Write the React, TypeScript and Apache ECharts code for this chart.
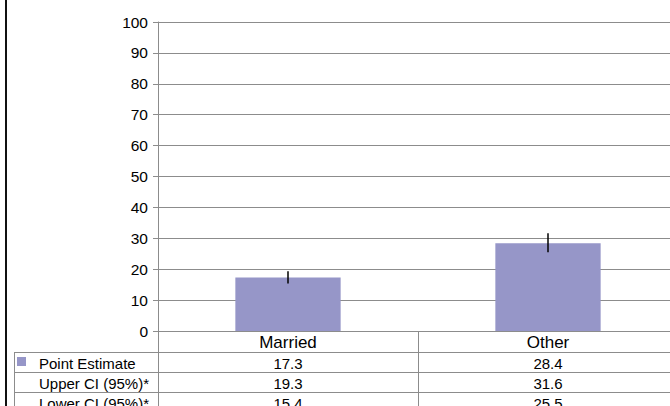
import React, { useEffect, useRef } from "react";
import * as echarts from "echarts";

const categories = ["Married", "Other"];
const pointEstimate = [17.3, 28.4];
const upperCI = [19.3, 31.6];
const lowerCI = [15.4, 25.5];
const rowLabels = ["Point Estimate", "Upper CI (95%)*", "Lower CI (95%)*"];
const upperText = ["19.3", "31.6"];
const lowerText = ["15.4", "25.5"];
const pointText = ["17.3", "28.4"];

const BAR_COLOR = "#9696C8";
const LINE_COLOR = "#8c8c8c";
const FONT = "'Liberation Sans', Arial, sans-serif";

export default function App() {
  const ref = useRef<HTMLDivElement>(null);
  useEffect(() => {
    document.body.style.margin = "0";
    document.body.style.overflow = "hidden";
    const chart = echarts.init(ref.current!, null, { renderer: "svg" });
    const gridLeft = 158;
    const gridTop = 22;
    const gridWidth = 520;
    const gridHeight = 309;
    chart.setOption({
      animation: false,
      textStyle: { fontFamily: FONT },
      grid: { left: gridLeft, top: gridTop, width: gridWidth, height: gridHeight },
      xAxis: {
        type: "category",
        data: categories,
        axisLine: { show: true, lineStyle: { color: LINE_COLOR, width: 1 } },
        axisTick: { show: false },
        axisLabel: { color: "#000", fontSize: 17, margin: 3, fontFamily: FONT },
      },
      yAxis: {
        type: "value",
        min: 0,
        max: 100,
        interval: 10,
        axisLine: { show: true, lineStyle: { color: LINE_COLOR, width: 1 } },
        axisTick: { show: true, length: 5, lineStyle: { color: LINE_COLOR } },
        axisLabel: { color: "#000", fontSize: 15.5, margin: 10, fontFamily: FONT },
        splitLine: { show: true, lineStyle: { color: LINE_COLOR, width: 1 } },
      },
      series: [
        {
          type: "bar",
          data: pointEstimate,
          barWidth: "40.5%",
          itemStyle: { color: BAR_COLOR },
        },
        {
          type: "custom",
          data: categories.map((_, i) => [i, lowerCI[i], upperCI[i]]),
          renderItem: (params: any, api: any) => {
            const lo = api.coord([api.value(0), api.value(1)]);
            const hi = api.coord([api.value(0), api.value(2)]);
            return {
              type: "line",
              shape: { x1: lo[0], y1: lo[1], x2: hi[0], y2: hi[1] },
              style: { stroke: "#000", lineWidth: 1.5 },
            };
          },
          z: 5,
        },
      ],
    });

    // Data table built from the axes' pixel scale
    const c0 = chart.convertToPixel({ xAxisIndex: 0 }, 0) as number;
    const c1 = chart.convertToPixel({ xAxisIndex: 0 }, 1) as number;
    const step = c1 - c0;
    const y0 = chart.convertToPixel({ yAxisIndex: 0 }, 0) as number;
    const tableLeft = 14;
    const catRowH = 21;
    const rowH = 20;
    const rowsTop = y0 + catRowH;
    const gEls: any[] = [];
    const line = (x1: number, y1: number, x2: number, y2: number, color = LINE_COLOR, w = 1) => ({
      type: "line",
      shape: { x1, y1, x2, y2 },
      style: { stroke: color, lineWidth: w },
      silent: true,
    });
    // left frame border
    gEls.push(line(6, 0, 6, 406, "#111", 2));
    const bottom = 420;
    for (let r = 0; r < rowLabels.length; r++) {
      const y = Math.round(rowsTop + r * rowH) + 0.5;
      gEls.push(line(tableLeft, y, 700, y));
    }
    gEls.push(line(tableLeft + 0.5, rowsTop, tableLeft + 0.5, bottom));
    gEls.push(line(gridLeft + 0.5, y0, gridLeft + 0.5, bottom));
    categories.forEach((_, i) => {
      const x = Math.round(c0 + step * (i + 0.5)) + 0.5;
      gEls.push(line(x, y0, x, bottom));
    });
    const rows = [pointText, upperText, lowerText];
    rowLabels.forEach((lab, r) => {
      const cy = rowsTop + r * rowH + rowH / 2 + 1;
      gEls.push({
        type: "text",
        x: 39,
        y: cy,
        style: { text: lab, fontSize: 15, fill: "#000", fontFamily: FONT, align: "left", verticalAlign: "middle" },
        silent: true,
      });
      categories.forEach((_, i) => {
        const cx = c0 + step * i;
        gEls.push({
          type: "text",
          x: cx,
          y: cy,
          style: { text: rows[r][i], fontSize: 15, fill: "#000", fontFamily: FONT, align: "center", verticalAlign: "middle" },
          silent: true,
        });
      });
    });
    gEls.push({
      type: "rect",
      shape: { x: 17, y: rowsTop + 5, width: 9, height: 9 },
      style: { fill: BAR_COLOR },
      silent: true,
    });
    chart.setOption({ graphic: { elements: gEls } });
    return () => chart.dispose();
  }, []);
  return (
    <div
      ref={ref}
      style={{ position: "fixed", left: 0, top: 0, width: 700, height: 406, background: "#fff" }}
    />
  );
}
